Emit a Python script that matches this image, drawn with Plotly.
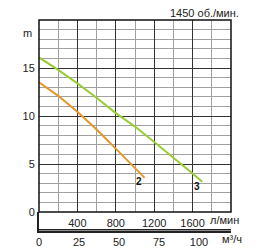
import plotly.graph_objects as go

# data
flow_2 = [0, 200, 400, 600, 800, 1000, 1100]          # l/min
head_2 = [13.5, 12.1, 10.45, 8.6, 6.6, 4.6, 3.55]     # m
flow_3 = [0, 200, 400, 600, 800, 1000, 1200, 1400, 1600, 1700]
head_3 = [16.1, 14.8, 13.4, 11.9, 10.3, 8.9, 7.3, 5.7, 4.0, 3.15]
m3h_ticks = [0, 25, 50, 75, 100]

FONT = "Liberation Sans, Arial, sans-serif"
W, H = 270, 250
ml, mr, mt, mb = 39, 39, 20, 19
ph = H - mt - mb
pw = W - ml - mr
low = 19 / ph
CLEAR = "rgba(0,0,0,0)"

fig = go.Figure()
fig.add_trace(go.Scatter(x=flow_2, y=head_2, mode="lines",
                         line=dict(color="#E8952A", width=2), xaxis="x", yaxis="y"))
fig.add_trace(go.Scatter(x=flow_3, y=head_3, mode="lines",
                         line=dict(color="#9ACD32", width=2), xaxis="x", yaxis="y"))
fig.add_trace(go.Scatter(x=[0], y=[0], xaxis="x2", yaxis="y2", mode="markers",
                         marker=dict(opacity=0), hoverinfo="skip"))

fig.update_layout(
    width=W, height=H, margin=dict(l=ml, r=mr, t=mt, b=mb, autoexpand=False),
    paper_bgcolor="white", plot_bgcolor=CLEAR, showlegend=False,
    font=dict(family=FONT, size=11, color="#222"),
    xaxis=dict(range=[0, 2000], anchor="y", domain=[0, 1],
               tickmode="linear", tick0=0, dtick=400,
               labelalias={"0": " ", "2000": " "},
               showgrid=True, gridcolor="#333", gridwidth=1,
               minor=dict(tickmode="linear", tick0=0, dtick=200, showgrid=True,
                          gridcolor="#a0a0a0", gridwidth=1),
               showline=False, zeroline=False, ticks="outside", ticklen=1,
               tickcolor=CLEAR, tickformat="d"),
    yaxis=dict(range=[0, 20], domain=[low, 1], anchor="x",
               tickmode="linear", tick0=0, dtick=5,
               labelalias={"20": " "},
               showgrid=True, gridcolor="#333", gridwidth=1,
               minor=dict(tickmode="linear", tick0=0, dtick=1, showgrid=True,
                          gridcolor="#a0a0a0", gridwidth=1),
               zeroline=False, showline=False, ticks="outside", ticklen=1,
               tickcolor=CLEAR),
    xaxis2=dict(range=[0, 120], anchor="y2", domain=[0, 1],
                tickmode="array", tickvals=m3h_ticks,
                showgrid=False, zeroline=False, showline=True, linecolor="#222",
                linewidth=1.5, ticks="", ticklen=0),
    yaxis2=dict(range=[0, 1], domain=[0, low], anchor="x2", showgrid=False,
                showticklabels=False, zeroline=False, showline=True,
                linecolor="#222", linewidth=1.5, ticks=""),
)

fig.add_shape(type="rect", xref="x domain", yref="y domain", x0=0, x1=1, y0=0, y1=1,
              line=dict(color="#111", width=1.5))
fig.add_shape(type="rect", xref="paper", yref="paper", x0=0, x1=1, y0=0.5 / ph, y1=2 / ph,
              fillcolor="#222", line=dict(width=0), layer="above")

fig.add_annotation(text="1450 об./мин.", xref="paper", yref="paper",
                   x=(241 - ml) / pw, y=(H - mb - 13) / ph,
                   xanchor="right", yanchor="middle", showarrow=False)
fig.add_annotation(text="m", xref="paper", yref="y", x=(27 - ml) / pw, y=18.6,
                   xanchor="center", yanchor="middle", showarrow=False)
fig.add_annotation(text="л/мин", xref="x", yref="paper", x=1760, y=(H - mb - 220) / ph,
                   xanchor="left", yanchor="middle", showarrow=False)
fig.add_annotation(text="м³/ч", xref="paper", yref="paper", x=(232 - ml) / pw,
                   y=(H - mb - 239) / ph, xanchor="center", yanchor="middle", showarrow=False)
fig.add_annotation(text="<b>2</b>", xref="x", yref="y", x=1042, y=3.2, showarrow=False,
                   font=dict(size=10, color="#111"))
fig.add_annotation(text="<b>3</b>", xref="x", yref="y", x=1646, y=2.7, showarrow=False,
                   font=dict(size=10, color="#111"))

fig.write_html("out.html")
